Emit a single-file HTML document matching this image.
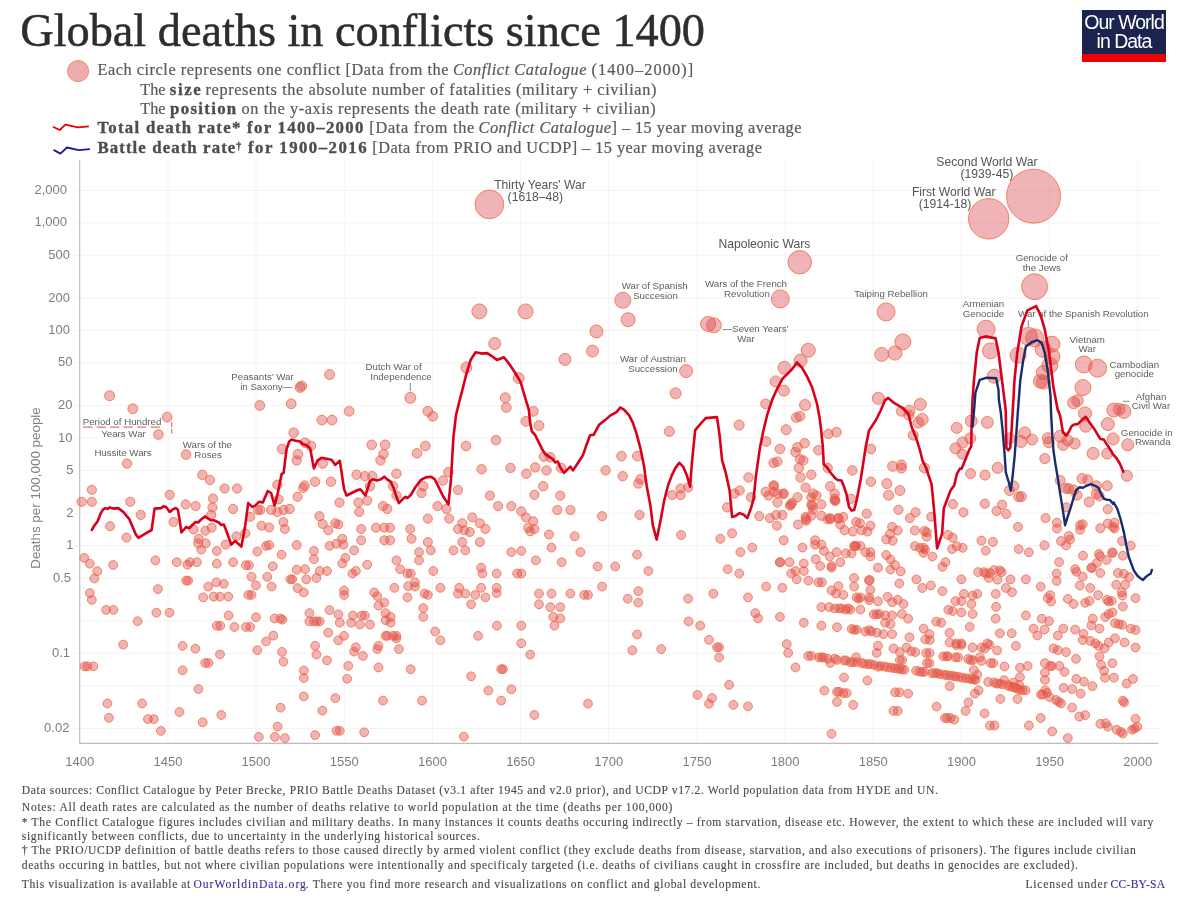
<!DOCTYPE html>
<html><head><meta charset="utf-8"><title>Global deaths in conflicts since 1400</title>
<style>
html,body{margin:0;padding:0;background:#fff;}
body{width:1193px;height:900px;position:relative;overflow:hidden;font-family:"Liberation Serif",serif;}
.t{position:absolute;white-space:nowrap;}
#title{left:21px;top:4px;font-size:46.5px;color:#2b2b2b;letter-spacing:-0.15px;line-height:54px;}
.lg{font-size:18.4px;color:#585858;line-height:20px;}
.lg b{color:#4a4a4a;}
.ft{font-size:12.2px;color:#454545;line-height:14px;left:22px;}
.ft a,.lic a{color:#3b2c9b;text-decoration:none;}
#logo{position:absolute;left:1082px;top:10px;width:84px;height:52px;background:#1b244f;will-change:transform;}
#logo .r{position:absolute;left:0;right:0;bottom:0;height:7.6px;background:#f20000;}
#logo div.w{position:absolute;left:0;width:84px;text-align:center;color:#fff;font-family:"Liberation Sans",sans-serif;font-size:19.5px;letter-spacing:-1px;line-height:20px;white-space:nowrap;}
</style></head><body>
<svg width="1193" height="900" viewBox="0 0 1193 900" style="position:absolute;left:0;top:0;will-change:transform">
<path d="M167.9 160.0 V743.3 M256.0 160.0 V743.3 M344.2 160.0 V743.3 M432.4 160.0 V743.3 M520.6 160.0 V743.3 M608.7 160.0 V743.3 M696.9 160.0 V743.3 M785.1 160.0 V743.3 M873.2 160.0 V743.3 M961.4 160.0 V743.3 M1049.6 160.0 V743.3 M1137.7 160.0 V743.3 M73.7 190.5 H1158.5 M73.7 222.9 H1158.5 M73.7 255.3 H1158.5 M73.7 298.1 H1158.5 M73.7 330.5 H1158.5 M73.7 362.9 H1158.5 M73.7 405.7 H1158.5 M73.7 438.1 H1158.5 M73.7 470.5 H1158.5 M73.7 513.3 H1158.5 M73.7 545.7 H1158.5 M73.7 578.1 H1158.5 M79.7 620.9 H1158.5 M73.7 653.3 H1158.5 M79.7 685.7 H1158.5 M73.7 728.5 H1158.5" stroke="#f3f3f3" stroke-width="1" fill="none"/>
<path d="M79.7 160.0 V743.3 H1158.5" stroke="#bdbdbd" stroke-width="1.2" fill="none"/>
<g font-family="Liberation Sans, sans-serif" font-size="13" fill="#7d7d7d">
<text x="67.0" y="194.0" text-anchor="end">2,000</text>
<text x="67.0" y="226.4" text-anchor="end">1,000</text>
<text x="70.0" y="258.8" text-anchor="end">500</text>
<text x="70.0" y="301.6" text-anchor="end">200</text>
<text x="70.0" y="334.0" text-anchor="end">100</text>
<text x="72.4" y="366.4" text-anchor="end">50</text>
<text x="72.4" y="409.2" text-anchor="end">20</text>
<text x="72.4" y="441.6" text-anchor="end">10</text>
<text x="73.4" y="474.0" text-anchor="end">5</text>
<text x="73.4" y="516.8" text-anchor="end">2</text>
<text x="73.4" y="549.2" text-anchor="end">1</text>
<text x="71.0" y="581.6" text-anchor="end">0.5</text>
<text x="70.0" y="656.8" text-anchor="end">0.1</text>
<text x="69.4" y="732.0" text-anchor="end">0.02</text>
<text x="79.7" y="766" text-anchor="middle">1400</text>
<text x="167.9" y="766" text-anchor="middle">1450</text>
<text x="256.0" y="766" text-anchor="middle">1500</text>
<text x="344.2" y="766" text-anchor="middle">1550</text>
<text x="432.4" y="766" text-anchor="middle">1600</text>
<text x="520.6" y="766" text-anchor="middle">1650</text>
<text x="608.7" y="766" text-anchor="middle">1700</text>
<text x="696.9" y="766" text-anchor="middle">1750</text>
<text x="785.1" y="766" text-anchor="middle">1800</text>
<text x="873.2" y="766" text-anchor="middle">1850</text>
<text x="961.4" y="766" text-anchor="middle">1900</text>
<text x="1049.6" y="766" text-anchor="middle">1950</text>
<text x="1137.7" y="766" text-anchor="middle">2000</text>
</g>
<text transform="translate(39.5,488) rotate(-90)" text-anchor="middle" font-family="Liberation Sans, sans-serif" font-size="13.4" fill="#808080">Deaths per 100,000 people</text>
<g fill="rgb(218,66,74)" fill-opacity="0.40" stroke="rgb(242,110,60)" stroke-opacity="0.8" stroke-width="1">
<circle cx="1033.5" cy="196.2" r="27.0"/>
<circle cx="988.7" cy="218.8" r="20.2"/>
<circle cx="489.4" cy="204.4" r="14.4"/>
<circle cx="1034.6" cy="286.7" r="13.0"/>
<circle cx="799.7" cy="262.2" r="11.7"/>
<circle cx="780.3" cy="298.9" r="9.0"/>
<circle cx="886.1" cy="311.9" r="9.0"/>
<circle cx="986.1" cy="329.2" r="9.0"/>
<circle cx="1028.3" cy="336.4" r="9.0"/>
<circle cx="1034.6" cy="337.9" r="9.0"/>
<circle cx="1097.6" cy="368.2" r="9.0"/>
<circle cx="1083.8" cy="364.5" r="8.5"/>
<circle cx="622.8" cy="300.3" r="8.0"/>
<circle cx="902.8" cy="341.9" r="8.0"/>
<circle cx="990.4" cy="350.9" r="8.0"/>
<circle cx="1018.1" cy="355.2" r="8.0"/>
<circle cx="1043.3" cy="349.4" r="8.0"/>
<circle cx="1052.0" cy="344.2" r="8.0"/>
<circle cx="1052.0" cy="356.6" r="8.0"/>
<circle cx="1049.9" cy="365.3" r="8.0"/>
<circle cx="1082.9" cy="387.6" r="8.0"/>
<circle cx="479.4" cy="311.4" r="7.5"/>
<circle cx="525.6" cy="311.4" r="7.5"/>
<circle cx="708.1" cy="323.9" r="7.5"/>
<circle cx="713.9" cy="325.3" r="7.5"/>
<circle cx="1113.9" cy="410.1" r="7.0"/>
<circle cx="1123.9" cy="411.4" r="7.0"/>
<circle cx="628.1" cy="319.7" r="7.0"/>
<circle cx="895.0" cy="353.1" r="7.0"/>
<circle cx="881.7" cy="354.4" r="7.0"/>
<circle cx="808.3" cy="350.3" r="7.0"/>
<circle cx="994.2" cy="376.3" r="7.0"/>
<circle cx="1043.3" cy="372.5" r="7.0"/>
<circle cx="1040.4" cy="381.2" r="7.0"/>
<circle cx="1043.3" cy="382.1" r="7.0"/>
<circle cx="1085.0" cy="413.4" r="6.5"/>
<circle cx="1107.8" cy="424.1" r="6.5"/>
<circle cx="596.4" cy="331.4" r="6.5"/>
<circle cx="686.1" cy="371.1" r="6.5"/>
<circle cx="800.6" cy="360.6" r="6.5"/>
<circle cx="784.4" cy="367.8" r="6.5"/>
<circle cx="920.3" cy="404.4" r="6.0"/>
<circle cx="922.2" cy="419.5" r="6.0"/>
<circle cx="971.2" cy="421.1" r="6.0"/>
<circle cx="987.3" cy="422.4" r="6.0"/>
<circle cx="1020.9" cy="441.5" r="6.0"/>
<circle cx="1073.6" cy="402.7" r="6.0"/>
<circle cx="1085.7" cy="426.2" r="6.0"/>
<circle cx="1119.2" cy="409.4" r="6.0"/>
<circle cx="1113.2" cy="438.9" r="6.0"/>
<circle cx="1127.7" cy="444.9" r="6.0"/>
<circle cx="1024.7" cy="432.9" r="6.0"/>
<circle cx="1060.2" cy="436.2" r="6.0"/>
<circle cx="1093.1" cy="453.4" r="6.0"/>
<circle cx="494.7" cy="343.6" r="6.0"/>
<circle cx="565.0" cy="359.4" r="6.0"/>
<circle cx="592.5" cy="351.1" r="6.0"/>
<circle cx="878.3" cy="398.3" r="6.0"/>
<circle cx="1077.4" cy="400.6" r="5.9"/>
<circle cx="805.1" cy="405.0" r="5.5"/>
<circle cx="909.6" cy="410.7" r="5.5"/>
<circle cx="918.4" cy="422.6" r="5.5"/>
<circle cx="956.7" cy="427.9" r="5.5"/>
<circle cx="970.3" cy="438.3" r="5.5"/>
<circle cx="962.6" cy="442.5" r="5.5"/>
<circle cx="955.5" cy="448.4" r="5.5"/>
<circle cx="1009.5" cy="438.3" r="5.5"/>
<circle cx="997.6" cy="467.9" r="5.5"/>
<circle cx="1126.9" cy="475.8" r="5.5"/>
<circle cx="1032.1" cy="439.6" r="5.5"/>
<circle cx="1047.9" cy="438.2" r="5.5"/>
<circle cx="1048.8" cy="442.2" r="5.5"/>
<circle cx="1067.6" cy="440.2" r="5.5"/>
<circle cx="1063.2" cy="444.9" r="5.5"/>
<circle cx="1074.7" cy="443.6" r="5.5"/>
<circle cx="1107.2" cy="453.6" r="5.5"/>
<circle cx="466.4" cy="367.5" r="5.5"/>
<circle cx="518.6" cy="378.1" r="5.5"/>
<circle cx="410.3" cy="397.8" r="5.5"/>
<circle cx="675.6" cy="393.3" r="5.5"/>
<circle cx="775.6" cy="381.4" r="5.5"/>
<circle cx="783.9" cy="390.6" r="5.5"/>
<circle cx="786.2" cy="429.7" r="5.0"/>
<circle cx="739.2" cy="425.1" r="5.0"/>
<circle cx="669.3" cy="431.4" r="5.0"/>
<circle cx="901.4" cy="411.3" r="5.0"/>
<circle cx="908.7" cy="415.1" r="5.0"/>
<circle cx="913.3" cy="435.2" r="5.0"/>
<circle cx="962.1" cy="454.1" r="5.0"/>
<circle cx="892.6" cy="466.3" r="5.0"/>
<circle cx="901.4" cy="465.0" r="5.0"/>
<circle cx="901.4" cy="468.1" r="5.0"/>
<circle cx="924.4" cy="467.9" r="5.0"/>
<circle cx="970.6" cy="473.6" r="5.0"/>
<circle cx="985.0" cy="475.1" r="5.0"/>
<circle cx="886.9" cy="483.6" r="5.0"/>
<circle cx="899.9" cy="490.5" r="5.0"/>
<circle cx="888.6" cy="495.2" r="5.0"/>
<circle cx="1013.9" cy="486.1" r="5.0"/>
<circle cx="1009.5" cy="490.5" r="5.0"/>
<circle cx="1018.7" cy="496.8" r="5.0"/>
<circle cx="1044.8" cy="458.6" r="5.0"/>
<circle cx="1060.2" cy="480.5" r="5.0"/>
<circle cx="1082.0" cy="478.5" r="5.0"/>
<circle cx="1087.7" cy="479.8" r="5.0"/>
<circle cx="1096.4" cy="485.8" r="5.0"/>
<circle cx="1107.2" cy="485.8" r="5.0"/>
<circle cx="1065.6" cy="488.5" r="5.0"/>
<circle cx="1068.5" cy="488.5" r="5.0"/>
<circle cx="1073.6" cy="489.9" r="5.0"/>
<circle cx="1077.0" cy="495.2" r="5.0"/>
<circle cx="1096.4" cy="493.9" r="5.0"/>
<circle cx="1099.1" cy="495.9" r="5.0"/>
<circle cx="1089.1" cy="501.9" r="5.0"/>
<circle cx="1021.3" cy="496.6" r="5.0"/>
<circle cx="300.1" cy="387.4" r="5.0"/>
<circle cx="329.6" cy="374.6" r="5.0"/>
<circle cx="505.3" cy="397.8" r="5.0"/>
<circle cx="301.6" cy="386.0" r="5.0"/>
<circle cx="109.6" cy="395.8" r="5.0"/>
<circle cx="291.2" cy="403.8" r="4.9"/>
<circle cx="765.6" cy="403.8" r="4.9"/>
<circle cx="259.8" cy="405.5" r="4.9"/>
<circle cx="506.3" cy="407.5" r="4.9"/>
<circle cx="132.8" cy="408.8" r="4.9"/>
<circle cx="349.1" cy="411.3" r="4.9"/>
<circle cx="427.8" cy="411.3" r="4.9"/>
<circle cx="533.4" cy="411.3" r="4.9"/>
<circle cx="432.8" cy="416.3" r="4.9"/>
<circle cx="800.0" cy="416.3" r="4.9"/>
<circle cx="167.2" cy="417.1" r="4.9"/>
<circle cx="796.3" cy="417.6" r="4.9"/>
<circle cx="321.9" cy="420.1" r="4.9"/>
<circle cx="332.0" cy="420.1" r="4.9"/>
<circle cx="525.9" cy="421.4" r="4.9"/>
<circle cx="539.0" cy="425.6" r="4.9"/>
<circle cx="836.5" cy="432.2" r="4.8"/>
<circle cx="293.7" cy="432.7" r="4.8"/>
<circle cx="828.4" cy="433.9" r="4.8"/>
<circle cx="158.4" cy="434.5" r="4.8"/>
<circle cx="496.0" cy="440.2" r="4.8"/>
<circle cx="766.1" cy="441.5" r="4.8"/>
<circle cx="305.1" cy="442.7" r="4.8"/>
<circle cx="804.6" cy="443.3" r="4.8"/>
<circle cx="371.7" cy="444.8" r="4.8"/>
<circle cx="385.1" cy="444.8" r="4.8"/>
<circle cx="310.9" cy="445.8" r="4.8"/>
<circle cx="425.3" cy="446.0" r="4.8"/>
<circle cx="466.0" cy="446.0" r="4.8"/>
<circle cx="797.5" cy="447.3" r="4.8"/>
<circle cx="282.1" cy="449.0" r="4.8"/>
<circle cx="779.9" cy="449.0" r="4.8"/>
<circle cx="870.9" cy="449.0" r="4.8"/>
<circle cx="818.4" cy="450.3" r="4.8"/>
<circle cx="795.5" cy="452.1" r="4.8"/>
<circle cx="417.0" cy="453.3" r="4.8"/>
<circle cx="298.0" cy="454.1" r="4.8"/>
<circle cx="383.5" cy="454.1" r="4.8"/>
<circle cx="186.1" cy="454.6" r="4.8"/>
<circle cx="621.5" cy="456.1" r="4.8"/>
<circle cx="637.3" cy="456.1" r="4.8"/>
<circle cx="544.0" cy="456.6" r="4.8"/>
<circle cx="550.3" cy="457.3" r="4.8"/>
<circle cx="800.0" cy="459.1" r="4.7"/>
<circle cx="296.7" cy="460.4" r="4.7"/>
<circle cx="380.5" cy="460.4" r="4.7"/>
<circle cx="803.3" cy="460.4" r="4.7"/>
<circle cx="777.4" cy="461.6" r="4.7"/>
<circle cx="773.6" cy="462.9" r="4.7"/>
<circle cx="127.0" cy="463.6" r="4.7"/>
<circle cx="322.7" cy="463.6" r="4.7"/>
<circle cx="535.2" cy="467.4" r="4.7"/>
<circle cx="510.5" cy="467.9" r="4.7"/>
<circle cx="561.1" cy="467.9" r="4.7"/>
<circle cx="798.8" cy="467.9" r="4.7"/>
<circle cx="827.7" cy="467.9" r="4.7"/>
<circle cx="481.6" cy="469.2" r="4.7"/>
<circle cx="546.5" cy="470.4" r="4.7"/>
<circle cx="605.6" cy="470.4" r="4.7"/>
<circle cx="852.3" cy="470.4" r="4.7"/>
<circle cx="448.4" cy="472.2" r="4.7"/>
<circle cx="526.4" cy="473.7" r="4.7"/>
<circle cx="396.4" cy="473.7" r="4.7"/>
<circle cx="356.6" cy="474.7" r="4.7"/>
<circle cx="811.3" cy="474.7" r="4.7"/>
<circle cx="202.4" cy="474.9" r="4.7"/>
<circle cx="364.9" cy="476.2" r="4.7"/>
<circle cx="372.2" cy="476.2" r="4.7"/>
<circle cx="622.7" cy="476.2" r="4.7"/>
<circle cx="800.5" cy="477.5" r="4.7"/>
<circle cx="748.5" cy="477.5" r="4.7"/>
<circle cx="640.4" cy="479.2" r="4.7"/>
<circle cx="210.0" cy="480.0" r="4.7"/>
<circle cx="442.9" cy="480.5" r="4.7"/>
<circle cx="315.1" cy="481.7" r="4.7"/>
<circle cx="331.0" cy="481.7" r="4.7"/>
<circle cx="870.9" cy="481.7" r="4.7"/>
<circle cx="638.3" cy="483.5" r="4.7"/>
<circle cx="277.4" cy="484.7" r="4.7"/>
<circle cx="304.6" cy="485.5" r="4.7"/>
<circle cx="773.6" cy="485.5" r="4.7"/>
<circle cx="370.0" cy="486.3" r="4.7"/>
<circle cx="393.1" cy="486.3" r="4.7"/>
<circle cx="423.3" cy="486.3" r="4.7"/>
<circle cx="543.2" cy="486.3" r="4.7"/>
<circle cx="830.2" cy="486.3" r="4.7"/>
<circle cx="688.1" cy="487.5" r="4.6"/>
<circle cx="805.6" cy="487.5" r="4.6"/>
<circle cx="303.1" cy="488.0" r="4.6"/>
<circle cx="224.6" cy="488.5" r="4.6"/>
<circle cx="237.1" cy="488.5" r="4.6"/>
<circle cx="680.6" cy="488.5" r="4.6"/>
<circle cx="91.8" cy="489.8" r="4.6"/>
<circle cx="458.0" cy="490.0" r="4.6"/>
<circle cx="739.7" cy="490.5" r="4.6"/>
<circle cx="765.6" cy="491.8" r="4.6"/>
<circle cx="773.6" cy="491.8" r="4.6"/>
<circle cx="421.5" cy="493.0" r="4.6"/>
<circle cx="734.7" cy="493.5" r="4.6"/>
<circle cx="777.4" cy="493.5" r="4.6"/>
<circle cx="783.7" cy="493.5" r="4.6"/>
<circle cx="834.7" cy="493.5" r="4.6"/>
<circle cx="813.1" cy="493.5" r="4.6"/>
<circle cx="169.7" cy="494.8" r="4.6"/>
<circle cx="534.4" cy="494.8" r="4.6"/>
<circle cx="672.3" cy="495.1" r="4.6"/>
<circle cx="680.6" cy="495.1" r="4.6"/>
<circle cx="560.3" cy="495.6" r="4.6"/>
<circle cx="489.9" cy="495.6" r="4.6"/>
<circle cx="396.4" cy="495.6" r="4.6"/>
<circle cx="768.6" cy="495.6" r="4.6"/>
<circle cx="816.4" cy="495.6" r="4.6"/>
<circle cx="297.5" cy="496.8" r="4.6"/>
<circle cx="751.0" cy="497.3" r="4.6"/>
<circle cx="797.5" cy="497.3" r="4.6"/>
<circle cx="811.3" cy="497.3" r="4.6"/>
<circle cx="213.0" cy="498.6" r="4.6"/>
<circle cx="851.1" cy="498.8" r="4.6"/>
<circle cx="834.7" cy="498.8" r="4.6"/>
<circle cx="278.6" cy="499.3" r="4.6"/>
<circle cx="367.2" cy="500.6" r="4.6"/>
<circle cx="834.7" cy="500.6" r="4.6"/>
<circle cx="780.1" cy="562.4" r="4.6"/>
<circle cx="869.4" cy="580.0" r="4.6"/>
<circle cx="773.8" cy="485.7" r="4.6"/>
<circle cx="812.2" cy="505.8" r="4.6"/>
<circle cx="790.8" cy="504.6" r="4.6"/>
<circle cx="835.4" cy="500.8" r="4.6"/>
<circle cx="805.9" cy="519.0" r="4.6"/>
<circle cx="830.4" cy="519.0" r="4.6"/>
<circle cx="838.6" cy="518.4" r="4.6"/>
<circle cx="854.9" cy="546.1" r="4.6"/>
<circle cx="783.3" cy="493.9" r="4.6"/>
<circle cx="1112.5" cy="552.5" r="4.6"/>
<circle cx="1091.8" cy="567.7" r="4.6"/>
<circle cx="91.8" cy="501.8" r="4.6"/>
<circle cx="81.7" cy="501.8" r="4.6"/>
<circle cx="130.3" cy="501.8" r="4.6"/>
<circle cx="339.5" cy="502.6" r="4.6"/>
<circle cx="358.4" cy="502.6" r="4.6"/>
<circle cx="777.4" cy="502.6" r="4.6"/>
<circle cx="792.0" cy="503.1" r="4.6"/>
<circle cx="984.8" cy="503.7" r="4.6"/>
<circle cx="953.0" cy="504.2" r="4.6"/>
<circle cx="185.6" cy="504.4" r="4.6"/>
<circle cx="811.3" cy="504.4" r="4.6"/>
<circle cx="821.4" cy="504.4" r="4.6"/>
<circle cx="1002.1" cy="504.7" r="4.6"/>
<circle cx="790.0" cy="505.6" r="4.6"/>
<circle cx="195.6" cy="506.1" r="4.6"/>
<circle cx="383.0" cy="506.1" r="4.6"/>
<circle cx="437.6" cy="506.1" r="4.6"/>
<circle cx="498.2" cy="506.1" r="4.6"/>
<circle cx="511.3" cy="506.1" r="4.6"/>
<circle cx="212.5" cy="507.4" r="4.6"/>
<circle cx="727.1" cy="507.4" r="4.6"/>
<circle cx="233.1" cy="508.9" r="4.6"/>
<circle cx="289.7" cy="508.9" r="4.6"/>
<circle cx="387.3" cy="508.9" r="4.6"/>
<circle cx="446.4" cy="508.9" r="4.6"/>
<circle cx="1107.8" cy="509.2" r="4.6"/>
<circle cx="813.1" cy="509.4" r="4.6"/>
<circle cx="898.5" cy="509.8" r="4.6"/>
<circle cx="257.8" cy="509.9" r="4.6"/>
<circle cx="260.3" cy="509.9" r="4.6"/>
<circle cx="271.1" cy="509.9" r="4.6"/>
<circle cx="283.7" cy="509.9" r="4.6"/>
<circle cx="557.3" cy="510.1" r="4.6"/>
<circle cx="570.4" cy="510.1" r="4.6"/>
<circle cx="996.6" cy="510.9" r="4.6"/>
<circle cx="521.3" cy="511.4" r="4.6"/>
<circle cx="277.4" cy="511.9" r="4.6"/>
<circle cx="359.2" cy="511.9" r="4.6"/>
<circle cx="915.6" cy="512.3" r="4.6"/>
<circle cx="963.4" cy="512.3" r="4.6"/>
<circle cx="866.7" cy="513.7" r="4.6"/>
<circle cx="1006.3" cy="513.9" r="4.6"/>
<circle cx="140.8" cy="514.9" r="4.6"/>
<circle cx="211.2" cy="514.9" r="4.6"/>
<circle cx="639.6" cy="514.9" r="4.6"/>
<circle cx="776.1" cy="514.9" r="4.6"/>
<circle cx="782.4" cy="514.9" r="4.6"/>
<circle cx="811.3" cy="515.7" r="4.6"/>
<circle cx="821.4" cy="515.7" r="4.6"/>
<circle cx="319.4" cy="516.2" r="4.6"/>
<circle cx="602.1" cy="516.2" r="4.6"/>
<circle cx="759.3" cy="516.2" r="4.6"/>
<circle cx="931.2" cy="516.8" r="4.5"/>
<circle cx="250.2" cy="516.9" r="4.5"/>
<circle cx="805.6" cy="516.9" r="4.5"/>
<circle cx="843.3" cy="516.9" r="4.5"/>
<circle cx="472.3" cy="517.4" r="4.5"/>
<circle cx="525.9" cy="517.4" r="4.5"/>
<circle cx="909.9" cy="518.1" r="4.5"/>
<circle cx="1045.5" cy="518.1" r="4.5"/>
<circle cx="769.9" cy="518.2" r="4.5"/>
<circle cx="830.2" cy="518.2" r="4.5"/>
<circle cx="837.8" cy="518.2" r="4.5"/>
<circle cx="427.8" cy="518.7" r="4.5"/>
<circle cx="449.2" cy="518.7" r="4.5"/>
<circle cx="827.7" cy="519.4" r="4.5"/>
<circle cx="806.3" cy="520.7" r="4.5"/>
<circle cx="533.2" cy="521.2" r="4.5"/>
<circle cx="173.5" cy="522.0" r="4.5"/>
<circle cx="283.4" cy="522.0" r="4.5"/>
<circle cx="856.1" cy="522.0" r="4.5"/>
<circle cx="1056.9" cy="522.7" r="4.5"/>
<circle cx="1114.5" cy="522.7" r="4.5"/>
<circle cx="335.3" cy="523.2" r="4.5"/>
<circle cx="462.3" cy="523.2" r="4.5"/>
<circle cx="479.9" cy="523.2" r="4.5"/>
<circle cx="859.9" cy="523.2" r="4.5"/>
<circle cx="1107.8" cy="523.5" r="4.5"/>
<circle cx="322.7" cy="524.0" r="4.5"/>
<circle cx="1082.7" cy="524.3" r="4.5"/>
<circle cx="338.3" cy="524.5" r="4.5"/>
<circle cx="798.0" cy="524.5" r="4.5"/>
<circle cx="840.3" cy="524.5" r="4.5"/>
<circle cx="1080.2" cy="525.2" r="4.5"/>
<circle cx="261.5" cy="525.7" r="4.5"/>
<circle cx="776.9" cy="525.7" r="4.5"/>
<circle cx="870.4" cy="525.7" r="4.5"/>
<circle cx="110.1" cy="526.2" r="4.5"/>
<circle cx="892.1" cy="526.9" r="4.5"/>
<circle cx="1018.0" cy="526.9" r="4.5"/>
<circle cx="1112.9" cy="526.9" r="4.5"/>
<circle cx="269.1" cy="527.5" r="4.5"/>
<circle cx="211.7" cy="527.7" r="4.5"/>
<circle cx="528.1" cy="527.7" r="4.5"/>
<circle cx="376.0" cy="527.7" r="4.5"/>
<circle cx="384.3" cy="527.7" r="4.5"/>
<circle cx="390.1" cy="527.7" r="4.5"/>
<circle cx="1100.3" cy="528.2" r="4.5"/>
<circle cx="1056.9" cy="528.5" r="4.5"/>
<circle cx="1114.5" cy="528.5" r="4.5"/>
<circle cx="284.9" cy="529.0" r="4.5"/>
<circle cx="534.4" cy="529.0" r="4.5"/>
<circle cx="361.2" cy="529.0" r="4.5"/>
<circle cx="410.2" cy="529.0" r="4.5"/>
<circle cx="458.0" cy="529.0" r="4.5"/>
<circle cx="485.4" cy="529.0" r="4.5"/>
<circle cx="193.6" cy="529.5" r="4.5"/>
<circle cx="1080.2" cy="529.7" r="4.5"/>
<circle cx="328.2" cy="530.3" r="4.5"/>
<circle cx="464.3" cy="530.3" r="4.5"/>
<circle cx="844.5" cy="530.3" r="4.5"/>
<circle cx="861.6" cy="530.3" r="4.5"/>
<circle cx="897.7" cy="530.5" r="4.5"/>
<circle cx="914.9" cy="530.5" r="4.5"/>
<circle cx="205.4" cy="530.8" r="4.5"/>
<circle cx="1066.3" cy="507.3" r="4.5"/>
<circle cx="924.5" cy="531.0" r="4.5"/>
<circle cx="530.2" cy="531.3" r="4.5"/>
<circle cx="852.8" cy="531.5" r="4.5"/>
<circle cx="867.4" cy="531.5" r="4.5"/>
<circle cx="469.8" cy="532.0" r="4.5"/>
<circle cx="926.7" cy="532.2" r="4.5"/>
<circle cx="245.2" cy="533.3" r="4.5"/>
<circle cx="732.1" cy="533.3" r="4.5"/>
<circle cx="890.1" cy="533.9" r="4.5"/>
<circle cx="549.0" cy="534.5" r="4.5"/>
<circle cx="948.0" cy="534.9" r="4.5"/>
<circle cx="681.1" cy="535.0" r="4.5"/>
<circle cx="1068.7" cy="536.1" r="4.5"/>
<circle cx="236.4" cy="536.3" r="4.5"/>
<circle cx="574.7" cy="536.3" r="4.5"/>
<circle cx="926.7" cy="536.6" r="4.5"/>
<circle cx="126.5" cy="537.6" r="4.5"/>
<circle cx="952.6" cy="537.7" r="4.5"/>
<circle cx="198.7" cy="538.8" r="4.5"/>
<circle cx="411.5" cy="538.8" r="4.5"/>
<circle cx="342.3" cy="538.8" r="4.5"/>
<circle cx="720.3" cy="538.8" r="4.5"/>
<circle cx="886.3" cy="539.4" r="4.5"/>
<circle cx="1070.1" cy="539.4" r="4.5"/>
<circle cx="361.2" cy="540.3" r="4.5"/>
<circle cx="384.3" cy="540.3" r="4.5"/>
<circle cx="390.1" cy="540.3" r="4.5"/>
<circle cx="783.7" cy="540.3" r="4.5"/>
<circle cx="815.1" cy="540.3" r="4.5"/>
<circle cx="892.6" cy="540.6" r="4.5"/>
<circle cx="981.5" cy="540.6" r="4.5"/>
<circle cx="1061.1" cy="541.1" r="4.5"/>
<circle cx="1122.1" cy="541.1" r="4.5"/>
<circle cx="992.9" cy="541.9" r="4.5"/>
<circle cx="427.8" cy="542.1" r="4.5"/>
<circle cx="462.3" cy="542.1" r="4.5"/>
<circle cx="479.9" cy="542.1" r="4.5"/>
<circle cx="198.2" cy="543.3" r="4.5"/>
<circle cx="205.7" cy="543.3" r="4.5"/>
<circle cx="336.5" cy="543.8" r="4.5"/>
<circle cx="225.6" cy="544.6" r="4.5"/>
<circle cx="343.3" cy="544.6" r="4.5"/>
<circle cx="815.1" cy="544.6" r="4.5"/>
<circle cx="821.4" cy="544.6" r="4.5"/>
<circle cx="269.1" cy="545.1" r="4.5"/>
<circle cx="296.7" cy="545.1" r="4.5"/>
<circle cx="1066.1" cy="545.3" r="4.5"/>
<circle cx="1044.4" cy="545.3" r="4.5"/>
<circle cx="1130.8" cy="545.6" r="4.4"/>
<circle cx="266.1" cy="545.9" r="4.4"/>
<circle cx="329.5" cy="545.9" r="4.4"/>
<circle cx="854.1" cy="545.9" r="4.4"/>
<circle cx="856.1" cy="545.9" r="4.4"/>
<circle cx="860.4" cy="545.9" r="4.4"/>
<circle cx="914.9" cy="546.1" r="4.4"/>
<circle cx="956.8" cy="546.1" r="4.4"/>
<circle cx="551.5" cy="547.6" r="4.4"/>
<circle cx="752.3" cy="547.6" r="4.4"/>
<circle cx="802.5" cy="547.6" r="4.4"/>
<circle cx="919.8" cy="547.8" r="4.4"/>
<circle cx="923.6" cy="547.8" r="4.4"/>
<circle cx="962.7" cy="547.8" r="4.4"/>
<circle cx="952.1" cy="549.1" r="4.4"/>
<circle cx="1018.7" cy="549.1" r="4.4"/>
<circle cx="925.0" cy="549.5" r="4.4"/>
<circle cx="201.2" cy="549.6" r="4.4"/>
<circle cx="354.1" cy="550.4" r="4.4"/>
<circle cx="430.8" cy="550.4" r="4.4"/>
<circle cx="453.5" cy="550.4" r="4.4"/>
<circle cx="465.3" cy="550.4" r="4.4"/>
<circle cx="985.7" cy="550.7" r="4.4"/>
<circle cx="216.8" cy="550.9" r="4.4"/>
<circle cx="313.9" cy="550.9" r="4.4"/>
<circle cx="521.3" cy="550.9" r="4.4"/>
<circle cx="823.9" cy="550.9" r="4.4"/>
<circle cx="257.3" cy="551.6" r="4.4"/>
<circle cx="419.0" cy="552.1" r="4.4"/>
<circle cx="511.3" cy="552.1" r="4.4"/>
<circle cx="580.4" cy="552.1" r="4.4"/>
<circle cx="740.4" cy="552.1" r="4.4"/>
<circle cx="836.5" cy="552.1" r="4.4"/>
<circle cx="865.4" cy="552.1" r="4.4"/>
<circle cx="870.4" cy="552.1" r="4.4"/>
<circle cx="1028.9" cy="552.3" r="4.4"/>
<circle cx="923.3" cy="552.8" r="4.4"/>
<circle cx="1112.4" cy="552.8" r="4.4"/>
<circle cx="845.8" cy="553.4" r="4.4"/>
<circle cx="851.6" cy="553.4" r="4.4"/>
<circle cx="1099.0" cy="554.0" r="4.4"/>
<circle cx="281.6" cy="554.7" r="4.4"/>
<circle cx="637.1" cy="554.7" r="4.4"/>
<circle cx="886.3" cy="555.0" r="4.4"/>
<circle cx="1083.0" cy="555.7" r="4.4"/>
<circle cx="1122.9" cy="555.7" r="4.4"/>
<circle cx="1100.0" cy="556.2" r="4.4"/>
<circle cx="870.4" cy="556.4" r="4.4"/>
<circle cx="829.7" cy="556.4" r="4.4"/>
<circle cx="932.4" cy="556.5" r="4.4"/>
<circle cx="84.2" cy="557.9" r="4.4"/>
<circle cx="345.3" cy="557.9" r="4.4"/>
<circle cx="313.9" cy="559.2" r="4.4"/>
<circle cx="815.6" cy="559.2" r="4.4"/>
<circle cx="890.5" cy="559.5" r="4.4"/>
<circle cx="89.8" cy="563.7" r="4.4"/>
<circle cx="113.2" cy="565.0" r="4.4"/>
<circle cx="155.4" cy="560.4" r="4.4"/>
<circle cx="176.8" cy="562.2" r="4.4"/>
<circle cx="187.3" cy="564.7" r="4.4"/>
<circle cx="189.9" cy="562.2" r="4.4"/>
<circle cx="196.9" cy="562.2" r="4.4"/>
<circle cx="216.8" cy="563.7" r="4.4"/>
<circle cx="233.1" cy="562.2" r="4.4"/>
<circle cx="245.9" cy="565.2" r="4.4"/>
<circle cx="249.0" cy="565.2" r="4.4"/>
<circle cx="272.8" cy="566.2" r="4.4"/>
<circle cx="296.7" cy="569.7" r="4.4"/>
<circle cx="97.3" cy="571.2" r="4.4"/>
<circle cx="94.3" cy="578.5" r="4.4"/>
<circle cx="251.5" cy="576.8" r="4.4"/>
<circle cx="267.3" cy="576.8" r="4.4"/>
<circle cx="290.4" cy="579.3" r="4.4"/>
<circle cx="292.2" cy="579.3" r="4.4"/>
<circle cx="186.1" cy="580.6" r="4.4"/>
<circle cx="188.1" cy="580.6" r="4.4"/>
<circle cx="216.3" cy="582.3" r="4.4"/>
<circle cx="223.8" cy="583.8" r="4.4"/>
<circle cx="208.2" cy="586.6" r="4.4"/>
<circle cx="256.0" cy="585.3" r="4.4"/>
<circle cx="271.6" cy="586.6" r="4.4"/>
<circle cx="297.5" cy="588.1" r="4.4"/>
<circle cx="157.9" cy="589.1" r="4.4"/>
<circle cx="89.8" cy="593.1" r="4.4"/>
<circle cx="203.2" cy="597.4" r="4.4"/>
<circle cx="213.7" cy="596.6" r="4.4"/>
<circle cx="220.0" cy="596.6" r="4.4"/>
<circle cx="228.3" cy="596.6" r="4.4"/>
<circle cx="248.4" cy="594.9" r="4.4"/>
<circle cx="251.5" cy="594.9" r="4.4"/>
<circle cx="91.8" cy="599.9" r="4.4"/>
<circle cx="106.1" cy="609.9" r="4.4"/>
<circle cx="113.4" cy="609.9" r="4.4"/>
<circle cx="156.4" cy="612.7" r="4.4"/>
<circle cx="169.5" cy="612.7" r="4.4"/>
<circle cx="137.6" cy="621.2" r="4.4"/>
<circle cx="228.6" cy="615.5" r="4.4"/>
<circle cx="256.0" cy="617.2" r="4.4"/>
<circle cx="274.6" cy="618.5" r="4.4"/>
<circle cx="280.4" cy="618.5" r="4.4"/>
<circle cx="282.4" cy="619.7" r="4.4"/>
<circle cx="216.8" cy="625.8" r="4.4"/>
<circle cx="220.3" cy="625.8" r="4.4"/>
<circle cx="234.4" cy="627.0" r="4.4"/>
<circle cx="245.9" cy="627.0" r="4.4"/>
<circle cx="250.2" cy="627.0" r="4.4"/>
<circle cx="273.3" cy="635.6" r="4.4"/>
<circle cx="266.1" cy="641.4" r="4.4"/>
<circle cx="123.2" cy="644.6" r="4.4"/>
<circle cx="182.6" cy="645.9" r="4.4"/>
<circle cx="195.4" cy="648.7" r="4.4"/>
<circle cx="220.0" cy="654.4" r="4.4"/>
<circle cx="257.3" cy="650.2" r="4.4"/>
<circle cx="282.1" cy="651.9" r="4.4"/>
<circle cx="283.4" cy="661.7" r="4.4"/>
<circle cx="84.5" cy="666.3" r="4.4"/>
<circle cx="87.3" cy="666.3" r="4.4"/>
<circle cx="93.3" cy="666.3" r="4.4"/>
<circle cx="205.2" cy="663.0" r="4.4"/>
<circle cx="208.5" cy="663.0" r="4.4"/>
<circle cx="182.6" cy="670.3" r="4.4"/>
<circle cx="198.4" cy="689.1" r="4.4"/>
<circle cx="107.4" cy="703.5" r="4.4"/>
<circle cx="142.1" cy="703.5" r="4.4"/>
<circle cx="179.5" cy="712.0" r="4.4"/>
<circle cx="221.3" cy="715.0" r="4.4"/>
<circle cx="280.6" cy="707.7" r="4.4"/>
<circle cx="108.9" cy="717.8" r="4.4"/>
<circle cx="147.9" cy="719.1" r="4.4"/>
<circle cx="153.9" cy="719.1" r="4.4"/>
<circle cx="202.7" cy="722.3" r="4.4"/>
<circle cx="160.9" cy="730.9" r="4.4"/>
<circle cx="277.6" cy="726.6" r="4.4"/>
<circle cx="258.8" cy="736.9" r="4.4"/>
<circle cx="274.9" cy="736.9" r="4.4"/>
<circle cx="284.9" cy="738.2" r="4.4"/>
<circle cx="342.3" cy="563.5" r="4.4"/>
<circle cx="367.2" cy="564.7" r="4.4"/>
<circle cx="396.4" cy="560.4" r="4.4"/>
<circle cx="419.0" cy="560.4" r="4.4"/>
<circle cx="535.9" cy="560.4" r="4.4"/>
<circle cx="561.6" cy="562.2" r="4.4"/>
<circle cx="305.1" cy="569.2" r="4.4"/>
<circle cx="319.7" cy="571.0" r="4.4"/>
<circle cx="327.0" cy="571.0" r="4.4"/>
<circle cx="355.9" cy="571.0" r="4.4"/>
<circle cx="352.4" cy="573.5" r="4.4"/>
<circle cx="400.1" cy="569.2" r="4.4"/>
<circle cx="407.4" cy="573.5" r="4.4"/>
<circle cx="410.7" cy="573.5" r="4.4"/>
<circle cx="433.3" cy="571.0" r="4.4"/>
<circle cx="481.1" cy="567.7" r="4.4"/>
<circle cx="482.4" cy="573.5" r="4.4"/>
<circle cx="496.7" cy="573.5" r="4.4"/>
<circle cx="517.1" cy="573.5" r="4.4"/>
<circle cx="521.3" cy="573.5" r="4.4"/>
<circle cx="306.3" cy="579.3" r="4.4"/>
<circle cx="316.4" cy="578.0" r="4.4"/>
<circle cx="415.0" cy="582.3" r="4.4"/>
<circle cx="408.2" cy="586.1" r="4.4"/>
<circle cx="415.0" cy="586.6" r="4.4"/>
<circle cx="394.4" cy="587.8" r="4.4"/>
<circle cx="440.4" cy="587.8" r="4.4"/>
<circle cx="459.2" cy="587.8" r="4.4"/>
<circle cx="481.1" cy="587.8" r="4.4"/>
<circle cx="496.7" cy="587.8" r="4.4"/>
<circle cx="303.8" cy="592.4" r="4.4"/>
<circle cx="344.1" cy="590.6" r="4.4"/>
<circle cx="344.1" cy="594.9" r="4.4"/>
<circle cx="374.2" cy="592.4" r="4.4"/>
<circle cx="377.3" cy="596.1" r="4.4"/>
<circle cx="407.4" cy="597.4" r="4.4"/>
<circle cx="424.5" cy="593.6" r="4.4"/>
<circle cx="427.8" cy="594.9" r="4.4"/>
<circle cx="458.0" cy="593.6" r="4.4"/>
<circle cx="465.3" cy="593.6" r="4.4"/>
<circle cx="475.3" cy="594.9" r="4.4"/>
<circle cx="485.4" cy="597.4" r="4.4"/>
<circle cx="496.7" cy="593.1" r="4.4"/>
<circle cx="539.0" cy="593.6" r="4.4"/>
<circle cx="551.5" cy="593.6" r="4.4"/>
<circle cx="570.4" cy="593.6" r="4.4"/>
<circle cx="584.2" cy="594.9" r="4.4"/>
<circle cx="588.0" cy="594.9" r="4.4"/>
<circle cx="471.1" cy="604.3" r="4.4"/>
<circle cx="539.0" cy="604.3" r="4.4"/>
<circle cx="550.3" cy="607.1" r="4.4"/>
<circle cx="560.3" cy="607.1" r="4.4"/>
<circle cx="378.5" cy="605.6" r="4.4"/>
<circle cx="384.3" cy="602.6" r="4.4"/>
<circle cx="329.5" cy="610.1" r="4.4"/>
<circle cx="309.4" cy="613.1" r="4.4"/>
<circle cx="338.3" cy="614.4" r="4.4"/>
<circle cx="352.9" cy="615.6" r="4.4"/>
<circle cx="361.7" cy="615.6" r="4.4"/>
<circle cx="364.9" cy="615.6" r="4.4"/>
<circle cx="385.6" cy="613.1" r="4.4"/>
<circle cx="390.6" cy="616.9" r="4.4"/>
<circle cx="423.3" cy="608.1" r="4.4"/>
<circle cx="423.3" cy="616.9" r="4.4"/>
<circle cx="553.3" cy="616.9" r="4.4"/>
<circle cx="560.3" cy="618.4" r="4.4"/>
<circle cx="309.4" cy="621.4" r="4.4"/>
<circle cx="313.9" cy="621.4" r="4.4"/>
<circle cx="316.9" cy="621.4" r="4.4"/>
<circle cx="319.7" cy="621.4" r="4.4"/>
<circle cx="339.8" cy="622.7" r="4.4"/>
<circle cx="351.1" cy="622.7" r="4.4"/>
<circle cx="359.9" cy="624.5" r="4.4"/>
<circle cx="370.0" cy="624.5" r="4.4"/>
<circle cx="385.6" cy="620.2" r="4.4"/>
<circle cx="390.6" cy="622.7" r="4.4"/>
<circle cx="497.0" cy="625.7" r="4.4"/>
<circle cx="521.3" cy="625.7" r="4.4"/>
<circle cx="554.5" cy="625.7" r="4.4"/>
<circle cx="328.2" cy="632.7" r="4.4"/>
<circle cx="344.1" cy="635.8" r="4.4"/>
<circle cx="338.3" cy="640.3" r="4.4"/>
<circle cx="385.6" cy="635.8" r="4.4"/>
<circle cx="387.3" cy="635.8" r="4.4"/>
<circle cx="393.1" cy="635.8" r="4.4"/>
<circle cx="396.4" cy="635.8" r="4.4"/>
<circle cx="396.4" cy="638.3" r="4.4"/>
<circle cx="435.1" cy="631.5" r="4.4"/>
<circle cx="440.4" cy="640.3" r="4.4"/>
<circle cx="478.1" cy="635.8" r="4.4"/>
<circle cx="521.3" cy="643.3" r="4.4"/>
<circle cx="315.1" cy="645.8" r="4.4"/>
<circle cx="355.9" cy="647.3" r="4.4"/>
<circle cx="354.1" cy="651.6" r="4.4"/>
<circle cx="378.5" cy="645.8" r="4.4"/>
<circle cx="377.3" cy="649.1" r="4.4"/>
<circle cx="398.9" cy="649.1" r="4.4"/>
<circle cx="316.4" cy="654.6" r="4.4"/>
<circle cx="362.9" cy="655.9" r="4.4"/>
<circle cx="530.2" cy="654.6" r="4.4"/>
<circle cx="327.0" cy="660.4" r="4.4"/>
<circle cx="348.3" cy="665.9" r="4.4"/>
<circle cx="378.5" cy="667.5" r="4.4"/>
<circle cx="410.7" cy="669.2" r="4.4"/>
<circle cx="303.8" cy="670.5" r="4.4"/>
<circle cx="303.8" cy="678.0" r="4.4"/>
<circle cx="347.1" cy="678.8" r="4.4"/>
<circle cx="471.1" cy="676.3" r="4.4"/>
<circle cx="501.2" cy="669.2" r="4.4"/>
<circle cx="503.0" cy="669.2" r="4.4"/>
<circle cx="303.8" cy="696.4" r="4.4"/>
<circle cx="335.3" cy="698.1" r="4.4"/>
<circle cx="383.0" cy="700.6" r="4.4"/>
<circle cx="422.0" cy="700.6" r="4.4"/>
<circle cx="488.4" cy="690.6" r="4.4"/>
<circle cx="511.3" cy="689.3" r="4.4"/>
<circle cx="501.2" cy="700.6" r="4.4"/>
<circle cx="588.0" cy="703.7" r="4.4"/>
<circle cx="322.4" cy="710.7" r="4.4"/>
<circle cx="534.4" cy="715.0" r="4.4"/>
<circle cx="315.1" cy="735.1" r="4.4"/>
<circle cx="336.5" cy="730.8" r="4.4"/>
<circle cx="339.8" cy="730.8" r="4.4"/>
<circle cx="364.2" cy="732.3" r="4.4"/>
<circle cx="463.8" cy="736.6" r="4.4"/>
<circle cx="779.9" cy="562.2" r="4.4"/>
<circle cx="789.5" cy="562.2" r="4.4"/>
<circle cx="840.3" cy="562.2" r="4.4"/>
<circle cx="803.8" cy="563.5" r="4.4"/>
<circle cx="820.2" cy="566.0" r="4.4"/>
<circle cx="831.5" cy="566.0" r="4.4"/>
<circle cx="831.5" cy="567.7" r="4.4"/>
<circle cx="878.0" cy="567.7" r="4.4"/>
<circle cx="597.6" cy="566.5" r="4.4"/>
<circle cx="615.2" cy="566.5" r="4.4"/>
<circle cx="648.4" cy="571.0" r="4.4"/>
<circle cx="727.6" cy="569.2" r="4.4"/>
<circle cx="739.2" cy="573.5" r="4.4"/>
<circle cx="791.2" cy="573.5" r="4.4"/>
<circle cx="795.5" cy="571.0" r="4.4"/>
<circle cx="803.8" cy="571.0" r="4.4"/>
<circle cx="796.8" cy="579.3" r="4.4"/>
<circle cx="808.3" cy="580.6" r="4.4"/>
<circle cx="854.1" cy="578.0" r="4.4"/>
<circle cx="869.2" cy="580.6" r="4.4"/>
<circle cx="818.4" cy="582.3" r="4.4"/>
<circle cx="821.9" cy="582.3" r="4.4"/>
<circle cx="602.1" cy="586.6" r="4.4"/>
<circle cx="638.3" cy="591.1" r="4.4"/>
<circle cx="766.1" cy="586.6" r="4.4"/>
<circle cx="782.4" cy="587.8" r="4.4"/>
<circle cx="838.5" cy="586.1" r="4.4"/>
<circle cx="854.1" cy="586.6" r="4.4"/>
<circle cx="870.4" cy="589.9" r="4.4"/>
<circle cx="831.5" cy="590.4" r="4.4"/>
<circle cx="836.0" cy="593.6" r="4.4"/>
<circle cx="843.3" cy="594.9" r="4.4"/>
<circle cx="627.8" cy="598.7" r="4.4"/>
<circle cx="713.3" cy="593.6" r="4.4"/>
<circle cx="748.0" cy="597.4" r="4.4"/>
<circle cx="688.1" cy="598.7" r="4.4"/>
<circle cx="856.6" cy="597.4" r="4.4"/>
<circle cx="860.4" cy="597.4" r="4.4"/>
<circle cx="869.2" cy="597.4" r="4.4"/>
<circle cx="638.3" cy="602.6" r="4.4"/>
<circle cx="858.6" cy="598.8" r="4.4"/>
<circle cx="869.2" cy="600.1" r="4.4"/>
<circle cx="878.0" cy="601.3" r="4.4"/>
<circle cx="821.4" cy="607.1" r="4.4"/>
<circle cx="829.0" cy="607.1" r="4.4"/>
<circle cx="834.7" cy="608.4" r="4.4"/>
<circle cx="839.0" cy="608.4" r="4.4"/>
<circle cx="841.5" cy="608.4" r="4.4"/>
<circle cx="845.3" cy="609.6" r="4.4"/>
<circle cx="847.8" cy="608.4" r="4.4"/>
<circle cx="850.3" cy="609.6" r="4.4"/>
<circle cx="860.4" cy="609.6" r="4.4"/>
<circle cx="873.7" cy="614.4" r="4.4"/>
<circle cx="876.7" cy="614.4" r="4.4"/>
<circle cx="755.3" cy="613.1" r="4.4"/>
<circle cx="758.0" cy="618.4" r="4.4"/>
<circle cx="779.9" cy="616.9" r="4.4"/>
<circle cx="688.6" cy="621.4" r="4.4"/>
<circle cx="700.2" cy="625.7" r="4.4"/>
<circle cx="803.8" cy="622.7" r="4.4"/>
<circle cx="821.4" cy="625.7" r="4.4"/>
<circle cx="837.0" cy="627.2" r="4.4"/>
<circle cx="851.6" cy="629.0" r="4.4"/>
<circle cx="854.1" cy="629.7" r="4.4"/>
<circle cx="856.6" cy="629.7" r="4.4"/>
<circle cx="865.4" cy="631.5" r="4.4"/>
<circle cx="869.2" cy="630.2" r="4.4"/>
<circle cx="871.2" cy="631.5" r="4.4"/>
<circle cx="876.7" cy="632.7" r="4.4"/>
<circle cx="637.1" cy="634.5" r="4.4"/>
<circle cx="709.0" cy="639.8" r="4.4"/>
<circle cx="717.0" cy="647.3" r="4.4"/>
<circle cx="719.1" cy="647.3" r="4.4"/>
<circle cx="632.3" cy="650.4" r="4.4"/>
<circle cx="661.2" cy="649.1" r="4.4"/>
<circle cx="719.1" cy="657.4" r="4.4"/>
<circle cx="786.7" cy="644.1" r="4.4"/>
<circle cx="788.2" cy="652.9" r="4.4"/>
<circle cx="878.0" cy="645.8" r="4.4"/>
<circle cx="876.7" cy="652.9" r="4.4"/>
<circle cx="808.3" cy="655.9" r="4.4"/>
<circle cx="811.3" cy="655.9" r="4.4"/>
<circle cx="818.9" cy="657.4" r="4.4"/>
<circle cx="821.4" cy="657.4" r="4.4"/>
<circle cx="823.4" cy="657.4" r="4.4"/>
<circle cx="827.7" cy="658.7" r="4.4"/>
<circle cx="830.2" cy="662.9" r="4.4"/>
<circle cx="834.7" cy="658.7" r="4.4"/>
<circle cx="837.0" cy="659.9" r="4.4"/>
<circle cx="844.0" cy="660.4" r="4.4"/>
<circle cx="846.1" cy="660.4" r="4.4"/>
<circle cx="850.3" cy="662.2" r="4.4"/>
<circle cx="852.8" cy="662.2" r="4.4"/>
<circle cx="856.1" cy="657.4" r="4.4"/>
<circle cx="856.6" cy="662.2" r="4.4"/>
<circle cx="861.6" cy="662.9" r="4.4"/>
<circle cx="864.2" cy="663.7" r="4.4"/>
<circle cx="867.9" cy="664.2" r="4.4"/>
<circle cx="870.4" cy="664.2" r="4.4"/>
<circle cx="874.2" cy="664.9" r="4.4"/>
<circle cx="878.0" cy="666.7" r="4.4"/>
<circle cx="795.5" cy="667.5" r="4.4"/>
<circle cx="844.0" cy="677.5" r="4.4"/>
<circle cx="867.4" cy="680.5" r="4.4"/>
<circle cx="729.1" cy="684.8" r="4.4"/>
<circle cx="824.4" cy="690.6" r="4.4"/>
<circle cx="837.0" cy="691.8" r="4.4"/>
<circle cx="839.0" cy="691.8" r="4.4"/>
<circle cx="843.3" cy="693.1" r="4.4"/>
<circle cx="846.6" cy="693.1" r="4.4"/>
<circle cx="697.4" cy="694.9" r="4.4"/>
<circle cx="712.0" cy="698.1" r="4.4"/>
<circle cx="709.0" cy="703.7" r="4.4"/>
<circle cx="733.4" cy="704.9" r="4.4"/>
<circle cx="748.0" cy="706.4" r="4.4"/>
<circle cx="837.0" cy="701.9" r="4.4"/>
<circle cx="853.3" cy="704.9" r="4.4"/>
<circle cx="831.5" cy="733.8" r="4.4"/>
<circle cx="945.4" cy="562.1" r="4.4"/>
<circle cx="942.4" cy="566.8" r="4.4"/>
<circle cx="895.1" cy="565.1" r="4.4"/>
<circle cx="890.5" cy="569.6" r="4.4"/>
<circle cx="900.7" cy="571.3" r="4.4"/>
<circle cx="978.1" cy="572.1" r="4.4"/>
<circle cx="984.0" cy="572.1" r="4.4"/>
<circle cx="986.0" cy="573.5" r="4.4"/>
<circle cx="989.9" cy="573.0" r="4.4"/>
<circle cx="994.1" cy="570.1" r="4.4"/>
<circle cx="999.9" cy="570.4" r="4.4"/>
<circle cx="1001.6" cy="572.1" r="4.4"/>
<circle cx="1059.1" cy="562.1" r="4.4"/>
<circle cx="1056.6" cy="573.5" r="4.4"/>
<circle cx="916.4" cy="579.3" r="4.4"/>
<circle cx="899.3" cy="583.5" r="4.4"/>
<circle cx="961.4" cy="579.3" r="4.4"/>
<circle cx="988.7" cy="578.0" r="4.4"/>
<circle cx="997.4" cy="579.7" r="4.4"/>
<circle cx="1010.5" cy="579.3" r="4.4"/>
<circle cx="1025.9" cy="579.3" r="4.4"/>
<circle cx="1056.6" cy="581.0" r="4.4"/>
<circle cx="922.3" cy="588.0" r="4.4"/>
<circle cx="930.9" cy="585.5" r="4.4"/>
<circle cx="942.4" cy="591.1" r="4.4"/>
<circle cx="1005.8" cy="588.0" r="4.4"/>
<circle cx="1012.0" cy="592.2" r="4.4"/>
<circle cx="1040.7" cy="586.7" r="4.4"/>
<circle cx="887.6" cy="596.8" r="4.4"/>
<circle cx="892.1" cy="602.3" r="4.4"/>
<circle cx="897.7" cy="599.8" r="4.4"/>
<circle cx="903.5" cy="604.0" r="4.4"/>
<circle cx="963.9" cy="593.9" r="4.4"/>
<circle cx="972.6" cy="595.6" r="4.4"/>
<circle cx="977.3" cy="593.9" r="4.4"/>
<circle cx="955.5" cy="601.1" r="4.4"/>
<circle cx="961.4" cy="601.1" r="4.4"/>
<circle cx="971.4" cy="604.0" r="4.4"/>
<circle cx="995.7" cy="593.9" r="4.4"/>
<circle cx="996.1" cy="606.8" r="4.4"/>
<circle cx="1050.2" cy="595.1" r="4.4"/>
<circle cx="1047.7" cy="598.1" r="4.4"/>
<circle cx="1051.1" cy="601.5" r="4.4"/>
<circle cx="1067.8" cy="598.9" r="4.4"/>
<circle cx="879.2" cy="614.0" r="4.4"/>
<circle cx="885.1" cy="615.4" r="4.4"/>
<circle cx="892.1" cy="615.4" r="4.4"/>
<circle cx="901.9" cy="614.0" r="4.4"/>
<circle cx="908.1" cy="618.7" r="4.4"/>
<circle cx="948.3" cy="609.8" r="4.4"/>
<circle cx="952.6" cy="611.0" r="4.4"/>
<circle cx="961.4" cy="612.4" r="4.4"/>
<circle cx="972.6" cy="614.0" r="4.4"/>
<circle cx="995.7" cy="618.7" r="4.4"/>
<circle cx="1025.9" cy="615.4" r="4.4"/>
<circle cx="1041.8" cy="618.7" r="4.4"/>
<circle cx="1049.0" cy="621.1" r="4.4"/>
<circle cx="885.1" cy="622.7" r="4.4"/>
<circle cx="890.5" cy="624.1" r="4.4"/>
<circle cx="936.2" cy="621.6" r="4.4"/>
<circle cx="941.2" cy="622.7" r="4.4"/>
<circle cx="883.4" cy="634.1" r="4.4"/>
<circle cx="892.1" cy="634.1" r="4.4"/>
<circle cx="909.4" cy="637.2" r="4.4"/>
<circle cx="923.6" cy="628.6" r="4.4"/>
<circle cx="929.5" cy="634.1" r="4.4"/>
<circle cx="925.3" cy="639.5" r="4.4"/>
<circle cx="929.8" cy="640.0" r="4.4"/>
<circle cx="949.6" cy="632.8" r="4.4"/>
<circle cx="969.7" cy="626.9" r="4.4"/>
<circle cx="999.9" cy="633.3" r="4.4"/>
<circle cx="1011.7" cy="633.3" r="4.4"/>
<circle cx="1033.5" cy="628.6" r="4.4"/>
<circle cx="1044.4" cy="629.5" r="4.4"/>
<circle cx="1037.3" cy="635.5" r="4.4"/>
<circle cx="1063.3" cy="628.6" r="4.4"/>
<circle cx="1057.8" cy="635.5" r="4.4"/>
<circle cx="949.6" cy="642.5" r="4.4"/>
<circle cx="956.3" cy="643.4" r="4.4"/>
<circle cx="961.4" cy="643.4" r="4.4"/>
<circle cx="987.4" cy="643.4" r="4.4"/>
<circle cx="1106.7" cy="560.0" r="4.4"/>
<circle cx="1096.9" cy="562.9" r="4.4"/>
<circle cx="1091.4" cy="567.9" r="4.4"/>
<circle cx="1075.1" cy="569.1" r="4.4"/>
<circle cx="1076.3" cy="571.8" r="4.4"/>
<circle cx="1100.3" cy="573.0" r="4.4"/>
<circle cx="1082.7" cy="576.6" r="4.4"/>
<circle cx="1117.9" cy="573.0" r="4.4"/>
<circle cx="1123.8" cy="573.8" r="4.4"/>
<circle cx="1129.1" cy="577.1" r="4.4"/>
<circle cx="1116.2" cy="584.7" r="4.4"/>
<circle cx="1125.1" cy="584.7" r="4.4"/>
<circle cx="1079.8" cy="585.5" r="4.4"/>
<circle cx="1090.2" cy="588.0" r="4.4"/>
<circle cx="1121.8" cy="592.2" r="4.4"/>
<circle cx="1122.4" cy="595.6" r="4.4"/>
<circle cx="1098.1" cy="595.1" r="4.4"/>
<circle cx="1135.5" cy="598.1" r="4.4"/>
<circle cx="1107.0" cy="599.8" r="4.4"/>
<circle cx="1108.7" cy="601.5" r="4.4"/>
<circle cx="1111.7" cy="601.0" r="4.4"/>
<circle cx="1089.4" cy="601.0" r="4.4"/>
<circle cx="1085.2" cy="602.8" r="4.4"/>
<circle cx="1073.5" cy="604.0" r="4.4"/>
<circle cx="1122.9" cy="606.5" r="4.4"/>
<circle cx="1112.5" cy="612.4" r="4.4"/>
<circle cx="1108.7" cy="614.0" r="4.4"/>
<circle cx="1105.3" cy="617.0" r="4.4"/>
<circle cx="1092.7" cy="618.7" r="4.4"/>
<circle cx="1115.0" cy="623.2" r="4.4"/>
<circle cx="1118.7" cy="624.1" r="4.4"/>
<circle cx="1122.1" cy="624.9" r="4.4"/>
<circle cx="1130.8" cy="628.6" r="4.4"/>
<circle cx="1135.5" cy="630.0" r="4.4"/>
<circle cx="1091.4" cy="625.4" r="4.4"/>
<circle cx="1099.5" cy="628.6" r="4.4"/>
<circle cx="1075.1" cy="629.6" r="4.4"/>
<circle cx="1083.5" cy="633.8" r="4.4"/>
<circle cx="1115.0" cy="638.3" r="4.4"/>
<circle cx="1082.7" cy="640.0" r="4.4"/>
<circle cx="1090.2" cy="640.9" r="4.4"/>
<circle cx="1108.7" cy="642.5" r="4.4"/>
<circle cx="1124.6" cy="642.5" r="4.4"/>
<circle cx="1095.3" cy="643.4" r="4.4"/>
<circle cx="893.5" cy="648.4" r="4.4"/>
<circle cx="906.5" cy="647.5" r="4.4"/>
<circle cx="911.1" cy="651.4" r="4.4"/>
<circle cx="915.3" cy="652.1" r="4.4"/>
<circle cx="899.8" cy="652.1" r="4.4"/>
<circle cx="926.2" cy="653.1" r="4.4"/>
<circle cx="929.5" cy="653.1" r="4.4"/>
<circle cx="956.3" cy="645.0" r="4.4"/>
<circle cx="961.4" cy="645.0" r="4.4"/>
<circle cx="972.6" cy="647.5" r="4.4"/>
<circle cx="981.5" cy="647.5" r="4.4"/>
<circle cx="984.8" cy="648.4" r="4.4"/>
<circle cx="989.4" cy="644.7" r="4.4"/>
<circle cx="997.1" cy="650.4" r="4.4"/>
<circle cx="1015.9" cy="645.9" r="4.4"/>
<circle cx="1053.6" cy="648.4" r="4.4"/>
<circle cx="1057.8" cy="650.1" r="4.4"/>
<circle cx="1066.1" cy="652.1" r="4.4"/>
<circle cx="943.3" cy="656.3" r="4.4"/>
<circle cx="946.3" cy="656.3" r="4.4"/>
<circle cx="948.0" cy="656.3" r="4.4"/>
<circle cx="955.5" cy="657.3" r="4.4"/>
<circle cx="958.0" cy="657.3" r="4.4"/>
<circle cx="968.1" cy="658.9" r="4.4"/>
<circle cx="970.6" cy="660.1" r="4.4"/>
<circle cx="973.1" cy="660.1" r="4.4"/>
<circle cx="979.8" cy="657.3" r="4.4"/>
<circle cx="981.5" cy="661.0" r="4.4"/>
<circle cx="899.8" cy="660.1" r="4.4"/>
<circle cx="902.2" cy="660.1" r="4.4"/>
<circle cx="927.0" cy="663.1" r="4.4"/>
<circle cx="929.5" cy="663.1" r="4.4"/>
<circle cx="990.7" cy="663.1" r="4.4"/>
<circle cx="993.2" cy="663.1" r="4.4"/>
<circle cx="1004.5" cy="666.5" r="4.4"/>
<circle cx="1020.0" cy="667.7" r="4.4"/>
<circle cx="1027.6" cy="666.0" r="4.4"/>
<circle cx="1044.9" cy="663.1" r="4.4"/>
<circle cx="1050.2" cy="666.0" r="4.4"/>
<circle cx="1051.9" cy="666.0" r="4.4"/>
<circle cx="1059.4" cy="666.0" r="4.4"/>
<circle cx="880.1" cy="666.0" r="4.4"/>
<circle cx="884.2" cy="666.5" r="4.4"/>
<circle cx="887.6" cy="667.3" r="4.4"/>
<circle cx="891.0" cy="667.7" r="4.4"/>
<circle cx="894.3" cy="668.2" r="4.4"/>
<circle cx="896.8" cy="668.5" r="4.4"/>
<circle cx="899.3" cy="668.8" r="4.4"/>
<circle cx="901.9" cy="669.3" r="4.4"/>
<circle cx="904.4" cy="669.7" r="4.4"/>
<circle cx="916.1" cy="670.7" r="4.4"/>
<circle cx="919.5" cy="671.5" r="4.4"/>
<circle cx="922.0" cy="671.9" r="4.4"/>
<circle cx="924.5" cy="671.9" r="4.4"/>
<circle cx="932.0" cy="673.2" r="4.4"/>
<circle cx="934.5" cy="673.2" r="4.4"/>
<circle cx="937.1" cy="673.2" r="4.4"/>
<circle cx="939.6" cy="674.0" r="4.4"/>
<circle cx="943.8" cy="674.7" r="4.4"/>
<circle cx="946.8" cy="675.2" r="4.4"/>
<circle cx="949.6" cy="675.5" r="4.4"/>
<circle cx="953.0" cy="676.0" r="4.4"/>
<circle cx="955.5" cy="676.5" r="4.4"/>
<circle cx="958.9" cy="676.9" r="4.4"/>
<circle cx="962.2" cy="677.7" r="4.4"/>
<circle cx="965.6" cy="678.2" r="4.4"/>
<circle cx="968.9" cy="678.6" r="4.4"/>
<circle cx="971.4" cy="679.1" r="4.4"/>
<circle cx="973.9" cy="679.4" r="4.4"/>
<circle cx="975.6" cy="679.9" r="4.4"/>
<circle cx="973.9" cy="670.2" r="4.4"/>
<circle cx="977.3" cy="674.7" r="4.4"/>
<circle cx="988.2" cy="681.9" r="4.4"/>
<circle cx="994.1" cy="682.4" r="4.4"/>
<circle cx="996.6" cy="683.6" r="4.4"/>
<circle cx="999.1" cy="683.6" r="4.4"/>
<circle cx="1002.4" cy="684.4" r="4.4"/>
<circle cx="1004.1" cy="680.2" r="4.4"/>
<circle cx="1007.5" cy="685.3" r="4.4"/>
<circle cx="1010.0" cy="686.6" r="4.4"/>
<circle cx="1012.5" cy="686.9" r="4.4"/>
<circle cx="1013.3" cy="682.7" r="4.4"/>
<circle cx="1015.0" cy="687.8" r="4.4"/>
<circle cx="1017.5" cy="688.6" r="4.4"/>
<circle cx="1019.2" cy="684.9" r="4.4"/>
<circle cx="1020.0" cy="689.5" r="4.4"/>
<circle cx="1022.6" cy="690.3" r="4.4"/>
<circle cx="1025.6" cy="690.3" r="4.4"/>
<circle cx="1020.0" cy="677.2" r="4.4"/>
<circle cx="1044.9" cy="672.7" r="4.4"/>
<circle cx="1044.9" cy="679.9" r="4.4"/>
<circle cx="1064.5" cy="671.9" r="4.4"/>
<circle cx="1063.6" cy="687.8" r="4.4"/>
<circle cx="1041.0" cy="694.5" r="4.4"/>
<circle cx="1042.7" cy="694.5" r="4.4"/>
<circle cx="1045.2" cy="690.3" r="4.4"/>
<circle cx="1046.9" cy="692.8" r="4.4"/>
<circle cx="1049.4" cy="697.0" r="4.4"/>
<circle cx="1056.1" cy="700.0" r="4.4"/>
<circle cx="1058.6" cy="701.7" r="4.4"/>
<circle cx="1061.1" cy="703.4" r="4.4"/>
<circle cx="895.1" cy="692.3" r="4.4"/>
<circle cx="899.3" cy="692.3" r="4.4"/>
<circle cx="908.1" cy="693.6" r="4.4"/>
<circle cx="949.6" cy="686.1" r="4.4"/>
<circle cx="974.8" cy="693.6" r="4.4"/>
<circle cx="978.6" cy="690.3" r="4.4"/>
<circle cx="968.4" cy="702.4" r="4.4"/>
<circle cx="936.6" cy="706.6" r="4.4"/>
<circle cx="965.6" cy="710.9" r="4.4"/>
<circle cx="893.5" cy="710.9" r="4.4"/>
<circle cx="897.7" cy="710.9" r="4.4"/>
<circle cx="1000.4" cy="699.0" r="4.4"/>
<circle cx="1017.5" cy="699.0" r="4.4"/>
<circle cx="984.5" cy="713.4" r="4.4"/>
<circle cx="944.9" cy="718.0" r="4.4"/>
<circle cx="947.1" cy="718.0" r="4.4"/>
<circle cx="950.5" cy="718.0" r="4.4"/>
<circle cx="954.3" cy="719.6" r="4.4"/>
<circle cx="989.9" cy="725.5" r="4.4"/>
<circle cx="994.4" cy="725.5" r="4.4"/>
<circle cx="1028.9" cy="725.5" r="4.4"/>
<circle cx="1040.7" cy="718.0" r="4.4"/>
<circle cx="1052.2" cy="731.4" r="4.4"/>
<circle cx="1067.8" cy="738.1" r="4.4"/>
<circle cx="1098.6" cy="645.9" r="4.4"/>
<circle cx="1104.5" cy="648.4" r="4.4"/>
<circle cx="1135.5" cy="647.5" r="4.4"/>
<circle cx="1076.0" cy="658.9" r="4.4"/>
<circle cx="1099.5" cy="656.3" r="4.4"/>
<circle cx="1112.4" cy="663.1" r="4.4"/>
<circle cx="1101.1" cy="664.8" r="4.4"/>
<circle cx="1104.0" cy="670.7" r="4.4"/>
<circle cx="1105.0" cy="677.7" r="4.4"/>
<circle cx="1114.0" cy="677.7" r="4.4"/>
<circle cx="1133.0" cy="678.9" r="4.4"/>
<circle cx="1126.6" cy="683.6" r="4.4"/>
<circle cx="1076.3" cy="678.9" r="4.4"/>
<circle cx="1084.0" cy="681.6" r="4.4"/>
<circle cx="1092.4" cy="686.1" r="4.4"/>
<circle cx="1072.1" cy="689.1" r="4.4"/>
<circle cx="1080.7" cy="693.6" r="4.4"/>
<circle cx="1122.9" cy="700.7" r="4.4"/>
<circle cx="1124.1" cy="702.4" r="4.4"/>
<circle cx="1072.1" cy="707.6" r="4.4"/>
<circle cx="1079.3" cy="716.6" r="4.4"/>
<circle cx="1085.2" cy="715.1" r="4.4"/>
<circle cx="1100.3" cy="723.8" r="4.4"/>
<circle cx="1105.7" cy="723.3" r="4.4"/>
<circle cx="1107.8" cy="726.7" r="4.4"/>
<circle cx="1116.7" cy="729.7" r="4.4"/>
<circle cx="1120.7" cy="731.9" r="4.4"/>
<circle cx="1122.9" cy="733.5" r="4.4"/>
<circle cx="1135.5" cy="718.8" r="4.4"/>
<circle cx="1137.2" cy="726.7" r="4.4"/>
<circle cx="1134.7" cy="728.5" r="4.4"/>
<circle cx="1132.1" cy="729.7" r="4.4"/>
</g>
<g font-family="Liberation Sans, sans-serif">
<text x="540.0" y="188.9" text-anchor="middle" font-size="12.15" fill="#555">Thirty Years' War</text>
<text x="535.3" y="200.9" text-anchor="middle" font-size="12.15" fill="#555">(1618–48)</text>
<text x="764.4" y="247.8" text-anchor="middle" font-size="12.15" fill="#555">Napoleonic Wars</text>
<text x="986.9" y="165.7" text-anchor="middle" font-size="12.15" fill="#555">Second World War</text>
<text x="986.9" y="178.2" text-anchor="middle" font-size="12.15" fill="#555">(1939-45)</text>
<text x="953.7" y="196.1" text-anchor="middle" font-size="12.15" fill="#555">First World War</text>
<text x="945.0" y="207.6" text-anchor="middle" font-size="12.15" fill="#555">(1914-18)</text>
<text x="654.7" y="289.2" text-anchor="middle" font-size="9.7" fill="#606060">War of Spanish</text>
<text x="655.5" y="298.9" text-anchor="middle" font-size="9.7" fill="#606060">Succesion</text>
<text x="746.0" y="287.2" text-anchor="middle" font-size="9.7" fill="#606060">Wars of the French</text>
<text x="747.0" y="297.2" text-anchor="middle" font-size="9.7" fill="#606060">Revolution</text>
<text x="722.5" y="331.9" text-anchor="start" font-size="9.7" fill="#606060">—Seven Years’</text>
<text x="746.0" y="342.1" text-anchor="middle" font-size="9.7" fill="#606060">War</text>
<text x="653.0" y="362.2" text-anchor="middle" font-size="9.7" fill="#606060">War of Austrian</text>
<text x="653.0" y="372.2" text-anchor="middle" font-size="9.7" fill="#606060">Succession</text>
<text x="854.2" y="297.2" text-anchor="start" font-size="9.7" fill="#606060">Taiping Rebellion</text>
<text x="1041.8" y="261.2" text-anchor="middle" font-size="9.7" fill="#606060">Genocide of</text>
<text x="1041.8" y="270.7" text-anchor="middle" font-size="9.7" fill="#606060">the Jews</text>
<text x="983.5" y="307.4" text-anchor="middle" font-size="9.7" fill="#606060">Armenian</text>
<text x="983.5" y="317.0" text-anchor="middle" font-size="9.7" fill="#606060">Genocide</text>
<text x="1018.1" y="317.0" text-anchor="start" font-size="9.7" fill="#606060">War of the Spanish Revolution</text>
<text x="1087.2" y="342.7" text-anchor="middle" font-size="9.7" fill="#606060">Vietnam</text>
<text x="1087.2" y="352.2" text-anchor="middle" font-size="9.7" fill="#606060">War</text>
<text x="1134.3" y="368.1" text-anchor="middle" font-size="9.7" fill="#606060">Cambodian</text>
<text x="1134.3" y="377.4" text-anchor="middle" font-size="9.7" fill="#606060">genocide</text>
<text x="1151.0" y="399.9" text-anchor="middle" font-size="9.7" fill="#606060">Afghan</text>
<text x="1151.0" y="409.2" text-anchor="middle" font-size="9.7" fill="#606060">Civil War</text>
<text x="1146.7" y="435.9" text-anchor="middle" font-size="9.7" fill="#606060">Genocide in</text>
<text x="1152.8" y="445.0" text-anchor="middle" font-size="9.7" fill="#606060">Rwanda</text>
<text x="393.6" y="370.3" text-anchor="middle" font-size="9.7" fill="#606060">Dutch War of</text>
<text x="401.0" y="379.5" text-anchor="middle" font-size="9.7" fill="#606060">Independence</text>
<text x="262.5" y="380.4" text-anchor="middle" font-size="9.7" fill="#606060">Peasants’ War</text>
<text x="266.3" y="390.4" text-anchor="middle" font-size="9.7" fill="#606060">in Saxony—</text>
<text x="122.0" y="424.7" text-anchor="middle" font-size="9.7" fill="#606060">Period of Hundred</text>
<text x="123.5" y="436.8" text-anchor="middle" font-size="9.7" fill="#606060">Years War</text>
<text x="123.0" y="456.4" text-anchor="middle" font-size="9.7" fill="#606060">Hussite Wars</text>
<text x="207.4" y="448.1" text-anchor="middle" font-size="9.7" fill="#606060">Wars of the</text>
<text x="208.1" y="457.6" text-anchor="middle" font-size="9.7" fill="#606060">Roses</text>
</g>
<path d="M91.8 530.0 L94.3 525.7 L97.6 521.2 L100.6 513.7 L103.1 509.4 L105.6 508.1 L107.6 508.9 L109.4 507.4 L113.2 508.6 L118.2 508.1 L123.2 511.9 L129.5 519.4 L135.8 534.5 L138.3 537.8 L140.8 536.3 L145.8 533.3 L151.6 530.0 L154.6 508.6 L160.9 508.1 L163.4 506.4 L166.0 506.9 L169.7 511.9 L173.5 508.9 L176.0 508.1 L178.0 509.9 L181.5 532.5 L186.1 527.0 L189.1 528.2 L192.4 525.0 L195.6 522.0 L198.1 522.5 L201.2 519.4 L204.9 516.4 L207.4 518.2 L210.7 520.2 L213.7 520.2 L218.8 522.5 L221.3 525.0 L223.8 524.5 L226.3 530.8 L231.3 544.6 L235.1 540.8 L237.6 543.3 L241.4 546.6 L245.2 525.7 L248.2 503.1 L252.2 506.9 L255.2 505.6 L259.0 501.8 L262.8 502.6 L267.8 491.0 L271.1 493.0 L274.6 505.6 L277.8 493.0 L281.6 474.2 L283.6 472.9 L286.6 449.0 L289.2 441.5 L291.7 439.5 L295.4 440.7 L300.1 441.5 L302.6 444.0 L306.3 445.3 L310.1 448.3 L313.9 468.4 L317.7 460.3 L321.4 457.8 L325.2 458.6 L331.5 459.8 L335.3 464.9 L339.8 460.8 L344.1 489.3 L346.6 495.5 L351.6 493.0 L356.6 490.5 L360.4 489.3 L365.4 495.5 L370.0 481.0 L373.0 479.2 L376.7 480.5 L381.0 479.2 L384.3 476.7 L386.8 479.2 L390.6 481.7 L393.6 488.0 L396.4 496.8 L398.9 503.1 L403.2 498.6 L405.7 496.8 L407.4 498.1 L410.7 495.0 L415.7 486.7 L420.8 480.0 L425.8 477.4 L430.8 476.7 L434.6 479.2 L438.4 486.7 L443.4 496.8 L448.4 504.4 L450.9 480.5 L453.4 437.7 L456.0 415.1 L459.7 400.0 L462.2 390.6 L466.4 373.9 L470.6 360.0 L475.6 352.2 L481.7 353.6 L487.2 353.1 L491.4 355.8 L496.9 360.0 L503.9 357.2 L509.4 364.2 L515.0 372.5 L520.6 382.2 L524.7 396.1 L528.9 410.0 L530.1 422.6 L531.9 431.4 L535.2 435.2 L538.9 442.7 L542.7 450.3 L545.2 454.1 L549.0 456.6 L552.8 459.1 L555.3 462.4 L557.8 461.6 L560.3 467.4 L564.1 472.9 L567.8 469.1 L570.4 466.6 L572.9 470.4 L576.6 464.9 L582.9 455.3 L586.3 445.3 L590.1 435.2 L593.8 434.7 L598.9 425.1 L605.1 420.1 L610.2 415.6 L616.5 412.1 L620.2 407.5 L624.0 409.6 L629.0 415.1 L632.8 422.6 L636.6 433.9 L640.3 447.8 L644.1 466.6 L646.6 485.5 L650.4 505.6 L652.9 525.7 L656.7 539.6 L660.5 520.7 L664.2 500.6 L668.0 485.5 L671.8 475.4 L675.5 467.9 L679.3 462.9 L683.1 466.6 L686.9 475.4 L690.1 486.7 L691.9 462.9 L695.2 430.2 L699.4 425.1 L705.7 418.1 L717.0 417.1 L719.6 435.2 L722.1 460.3 L725.8 472.9 L729.6 490.5 L732.1 516.9 L735.9 515.7 L739.7 513.2 L743.4 514.4 L747.2 518.2 L751.0 508.1 L753.5 499.3 L756.0 475.4 L760.0 447.4 L763.4 430.6 L767.5 413.8 L772.6 398.7 L777.6 387.8 L782.6 378.6 L787.7 373.6 L791.9 369.4 L796.9 362.4 L801.9 367.7 L806.9 376.1 L812.0 387.0 L817.0 403.8 L819.5 417.2 L821.2 430.6 L822.9 447.4 L823.7 464.1 L827.1 467.5 L830.4 472.5 L835.4 478.4 L837.7 480.0 L841.5 480.5 L844.0 486.7 L846.5 494.3 L849.0 506.9 L851.6 510.6 L854.1 510.1 L856.6 500.6 L860.6 480.0 L863.1 464.1 L865.6 447.4 L869.0 430.6 L875.7 420.5 L880.7 410.5 L884.9 400.4 L888.2 397.9 L894.1 402.9 L902.5 408.0 L908.4 413.8 L911.7 427.2 L915.9 437.3 L920.1 450.7 L922.6 460.8 L926.0 467.5 L929.3 477.5 L931.6 484.3 L933.1 499.4 L934.5 515.1 L936.2 536.9 L937.1 548.3 L942.1 533.6 L943.8 508.4 L948.8 495.0 L950.5 490.6 L954.2 485.5 L956.8 474.2 L959.9 468.6 L961.8 468.6 L965.6 459.1 L969.3 449.7 L971.2 446.5 L971.6 425.2 L972.5 400.0 L973.9 381.2 L976.8 352.3 L979.7 337.9 L985.5 336.4 L995.6 338.4 L998.5 352.3 L1001.4 375.4 L1004.3 398.6 L1005.7 410.1 L1006.4 447.8 L1008.3 450.3 L1010.2 447.8 L1011.5 431.4 L1013.4 400.0 L1014.4 381.2 L1017.3 352.3 L1021.6 326.3 L1027.4 310.4 L1036.1 306.1 L1040.4 314.7 L1044.7 329.2 L1049.1 352.3 L1053.4 387.0 L1057.7 410.1 L1058.2 410.7 L1060.2 416.1 L1062.9 432.2 L1066.3 435.5 L1069.0 431.5 L1071.6 426.2 L1074.3 424.5 L1077.7 424.1 L1081.0 420.8 L1085.7 416.8 L1089.7 422.8 L1093.8 428.2 L1097.8 434.9 L1100.5 438.9 L1103.8 439.6 L1107.2 444.9 L1111.2 451.0 L1112.5 453.6 L1116.6 458.3 L1119.9 463.7 L1123.3 471.8" stroke="#d9001b" stroke-width="2.6" fill="none" stroke-linejoin="round" stroke-linecap="round"/>
<path d="M972.5 427.0 L974.4 406.3 L975.4 392.8 L979.7 379.8 L986.9 377.7 L996.2 378.3 L998.5 389.9 L998.9 400.0 L1000.8 412.6 L1002.7 431.4 L1004.6 454.1 L1005.8 472.3 L1009.0 483.0 L1010.8 490.6 L1012.7 475.5 L1014.6 456.6 L1016.5 431.4 L1017.8 412.6 L1020.2 381.2 L1023.1 361.0 L1025.9 346.5 L1031.7 342.2 L1037.5 340.2 L1041.8 343.1 L1044.7 352.3 L1047.6 369.7 L1050.5 395.7 L1051.1 413.4 L1052.2 433.5 L1053.5 451.0 L1055.5 464.4 L1058.2 480.5 L1060.2 493.9 L1062.6 508.4 L1065.1 525.2 L1067.6 516.8 L1071.0 506.7 L1073.6 497.9 L1076.3 489.9 L1079.7 487.2 L1083.0 487.8 L1086.4 485.8 L1091.1 484.2 L1095.1 485.8 L1098.5 487.8 L1101.1 493.9 L1103.8 498.6 L1107.2 499.9 L1109.9 499.9 L1113.2 503.9 L1113.7 502.5 L1117.1 508.4 L1120.4 518.5 L1123.8 531.9 L1126.3 545.3 L1128.8 557.0 L1131.3 563.7 L1133.8 570.4 L1137.2 575.5 L1140.5 578.3 L1143.0 580.0 L1145.6 577.1 L1148.1 575.1 L1150.6 573.8 L1151.9 569.9" stroke="#172d6e" stroke-width="2.4" fill="none" stroke-linejoin="round" stroke-linecap="round"/>
<path d="M83 427.2 H164" stroke="#cf7a80" stroke-width="1.2" stroke-dasharray="9.5 4" fill="none"/>
<path d="M171.7 422 V433.4" stroke="#cf7a80" stroke-width="1.2" stroke-dasharray="5 1.5" fill="none"/>
<path d="M410.3 383 V391" stroke="#888" stroke-width="1" fill="none"/>
<path d="M1028.3 320.5 V326.9" stroke="#888" stroke-width="1" fill="none"/>
<path d="M1122.8 401.3 H1129.5" stroke="#888" stroke-width="1" fill="none"/>
<circle cx="78.1" cy="71.1" r="10.6" fill="rgb(215,68,72)" fill-opacity="0.45" stroke="rgb(240,120,80)" stroke-opacity="0.75" stroke-width="1"/>
<path d="M53 126.7 L59.7 130 L65.4 124.7 L77.8 127.4 L88.9 126.4" stroke="#e60000" stroke-width="1.8" fill="none" stroke-linejoin="round"/>
<path d="M53.6 149.9 L60.4 153.6 L67 147.5 L78.8 150.2 L89.9 149.2" stroke="#1a1a9a" stroke-width="1.8" fill="none" stroke-linejoin="round"/>
<text x="20.3" y="46.0" textLength="684.7" lengthAdjust="spacing" font-family="Liberation Serif, serif" font-size="46.3" fill="#2d2d2d" stroke="#2d2d2d" stroke-width="0.5" font-weight="normal" font-style="normal" xml:space="preserve">Global deaths in conflicts since 1400</text>
<text x="97.4" y="75.4" textLength="351.1" lengthAdjust="spacing" font-family="Liberation Serif, serif" font-size="16.3" fill="#5a5a5a" stroke="#5a5a5a" stroke-width="0.22" font-weight="normal" font-style="normal" xml:space="preserve">Each circle represents one conflict [Data from the</text>
<text x="452.9" y="75.4" textLength="133.6" lengthAdjust="spacing" font-family="Liberation Serif, serif" font-size="16.3" fill="#5a5a5a" stroke="#5a5a5a" stroke-width="0.22" font-weight="normal" font-style="italic" xml:space="preserve">Conflict Catalogue</text>
<text x="591.6" y="75.4" textLength="101.5" lengthAdjust="spacing" font-family="Liberation Serif, serif" font-size="16.3" fill="#5a5a5a" stroke="#5a5a5a" stroke-width="0.22" font-weight="normal" font-style="normal" xml:space="preserve">(1400–2000)]</text>
<text x="140.3" y="94.5" textLength="25.2" lengthAdjust="spacing" font-family="Liberation Serif, serif" font-size="16.3" fill="#5a5a5a" stroke="#5a5a5a" stroke-width="0.22" font-weight="normal" font-style="normal" xml:space="preserve">The</text>
<text x="169.8" y="94.5" textLength="30.8" lengthAdjust="spacing" font-family="Liberation Serif, serif" font-size="16.8" fill="#4d4d4d" stroke="#4d4d4d" stroke-width="0.35" font-weight="bold" font-style="normal" xml:space="preserve">size</text>
<text x="205.6" y="94.5" textLength="450.7" lengthAdjust="spacing" font-family="Liberation Serif, serif" font-size="16.3" fill="#5a5a5a" stroke="#5a5a5a" stroke-width="0.22" font-weight="normal" font-style="normal" xml:space="preserve">represents the absolute number of fatalities (military + civilian)</text>
<text x="140.3" y="113.7" textLength="25.2" lengthAdjust="spacing" font-family="Liberation Serif, serif" font-size="16.3" fill="#5a5a5a" stroke="#5a5a5a" stroke-width="0.22" font-weight="normal" font-style="normal" xml:space="preserve">The</text>
<text x="170.1" y="113.7" textLength="66.1" lengthAdjust="spacing" font-family="Liberation Serif, serif" font-size="16.8" fill="#4d4d4d" stroke="#4d4d4d" stroke-width="0.35" font-weight="bold" font-style="normal" xml:space="preserve">position</text>
<text x="241.6" y="113.7" textLength="414.0" lengthAdjust="spacing" font-family="Liberation Serif, serif" font-size="16.3" fill="#5a5a5a" stroke="#5a5a5a" stroke-width="0.22" font-weight="normal" font-style="normal" xml:space="preserve">on the y-axis represents the death rate (military + civilian)</text>
<text x="97.4" y="133.1" textLength="265.9" lengthAdjust="spacing" font-family="Liberation Serif, serif" font-size="16.8" fill="#4d4d4d" stroke="#4d4d4d" stroke-width="0.35" font-weight="bold" font-style="normal" xml:space="preserve">Total death rate* for 1400–2000</text>
<text x="369.3" y="133.1" textLength="105.0" lengthAdjust="spacing" font-family="Liberation Serif, serif" font-size="16.3" fill="#5a5a5a" stroke="#5a5a5a" stroke-width="0.22" font-weight="normal" font-style="normal" xml:space="preserve">[Data from the</text>
<text x="478.6" y="133.1" textLength="132.4" lengthAdjust="spacing" font-family="Liberation Serif, serif" font-size="16.3" fill="#5a5a5a" stroke="#5a5a5a" stroke-width="0.22" font-weight="normal" font-style="italic" xml:space="preserve">Conflict Catalogue</text>
<text x="611.5" y="133.1" textLength="189.9" lengthAdjust="spacing" font-family="Liberation Serif, serif" font-size="16.3" fill="#5a5a5a" stroke="#5a5a5a" stroke-width="0.22" font-weight="normal" font-style="normal" xml:space="preserve">] – 15 year moving average</text>
<text x="97.4" y="152.6" textLength="137.9" lengthAdjust="spacing" font-family="Liberation Serif, serif" font-size="16.8" fill="#4d4d4d" stroke="#4d4d4d" stroke-width="0.35" font-weight="bold" font-style="normal" xml:space="preserve">Battle death rate</text>
<text x="236.2" y="148.8" textLength="3.8" lengthAdjust="spacing" font-family="Liberation Serif, serif" font-size="10" fill="#4d4d4d" stroke="#4d4d4d" stroke-width="0.35" font-weight="bold" font-style="normal" xml:space="preserve">†</text>
<text x="248.0" y="152.6" textLength="118.6" lengthAdjust="spacing" font-family="Liberation Serif, serif" font-size="16.8" fill="#4d4d4d" stroke="#4d4d4d" stroke-width="0.35" font-weight="bold" font-style="normal" xml:space="preserve">for 1900–2016</text>
<text x="372.3" y="152.6" textLength="389.6" lengthAdjust="spacing" font-family="Liberation Serif, serif" font-size="16.3" fill="#5a5a5a" stroke="#5a5a5a" stroke-width="0.22" font-weight="normal" font-style="normal" xml:space="preserve">[Data from PRIO and UCDP] – 15 year moving average</text>
<text x="21.8" y="794.1" textLength="916.0" lengthAdjust="spacing" font-family="Liberation Serif, serif" font-size="11.6" fill="#484848" stroke="#484848" stroke-width="0.12" font-weight="normal" font-style="normal" xml:space="preserve">Data sources: Conflict Catalogue by Peter Brecke, PRIO Battle Deaths Dataset (v3.1 after 1945 and v2.0 prior), and UCDP v17.2. World population data from HYDE and UN.</text>
<text x="21.8" y="810.9" textLength="650.5" lengthAdjust="spacing" font-family="Liberation Serif, serif" font-size="11.6" fill="#484848" stroke="#484848" stroke-width="0.12" font-weight="normal" font-style="normal" xml:space="preserve">Notes: All death rates are calculated as the number of deaths relative to world population at the time (deaths per 100,000)</text>
<text x="21.8" y="825.6" textLength="1131.6" lengthAdjust="spacing" font-family="Liberation Serif, serif" font-size="11.6" fill="#484848" stroke="#484848" stroke-width="0.12" font-weight="normal" font-style="normal" xml:space="preserve">* The Conflict Catalogue figures includes civilian and military deaths. In many instances it counts deaths occuring indirectly – from starvation, disease etc. However, the extent to which these are included will vary</text>
<text x="21.8" y="840.0" textLength="458.0" lengthAdjust="spacing" font-family="Liberation Serif, serif" font-size="11.6" fill="#484848" stroke="#484848" stroke-width="0.12" font-weight="normal" font-style="normal" xml:space="preserve">significantly between conflicts, due to uncertainty in the underlying historical sources.</text>
<text x="21.8" y="854.4" textLength="1113.9" lengthAdjust="spacing" font-family="Liberation Serif, serif" font-size="11.6" fill="#484848" stroke="#484848" stroke-width="0.12" font-weight="normal" font-style="normal" xml:space="preserve">† The PRIO/UCDP definition of battle deaths refers to those caused directly by armed violent conflict (they exclude deaths from disease, starvation, and also executions of prisoners). The figures include civilian</text>
<text x="21.8" y="869.2" textLength="1056.2" lengthAdjust="spacing" font-family="Liberation Serif, serif" font-size="11.6" fill="#484848" stroke="#484848" stroke-width="0.12" font-weight="normal" font-style="normal" xml:space="preserve">deaths occuring in battles, but not where civilian populations were intentionally and specificaly targeted (i.e. deaths of civilians caught in crossfire are included, but deaths in genocides are excluded).</text>
<text x="21.8" y="888.0" textLength="168.5" lengthAdjust="spacing" font-family="Liberation Serif, serif" font-size="11.6" fill="#484848" stroke="#484848" stroke-width="0.12" font-weight="normal" font-style="normal" xml:space="preserve">This visualization is available at</text>
<text x="193.5" y="888.0" textLength="112.3" lengthAdjust="spacing" font-family="Liberation Serif, serif" font-size="11.6" fill="#3b2c9b" stroke="#3b2c9b" stroke-width="0.12" font-weight="normal" font-style="normal" xml:space="preserve">OurWorldinData.org</text>
<text x="305.8" y="888.0" textLength="454.6" lengthAdjust="spacing" font-family="Liberation Serif, serif" font-size="11.6" fill="#484848" stroke="#484848" stroke-width="0.12" font-weight="normal" font-style="normal" xml:space="preserve">. There you find more research and visualizations on conflict and global development.</text>
<text x="1025.4" y="888.0" textLength="81.9" lengthAdjust="spacing" font-family="Liberation Serif, serif" font-size="11.6" fill="#484848" stroke="#484848" stroke-width="0.12" font-weight="normal" font-style="normal" xml:space="preserve">Licensed under</text>
<text x="1110.5" y="888.0" textLength="54.7" lengthAdjust="spacing" font-family="Liberation Serif, serif" font-size="11.6" fill="#3b2c9b" stroke="#3b2c9b" stroke-width="0.12" font-weight="normal" font-style="normal" xml:space="preserve">CC-BY-SA</text>
</svg>
<div id="logo"><div class="w" style="top:2px">Our World</div><div class="w" style="top:20.5px">in Data</div><div class="r"></div></div>
</body></html>
